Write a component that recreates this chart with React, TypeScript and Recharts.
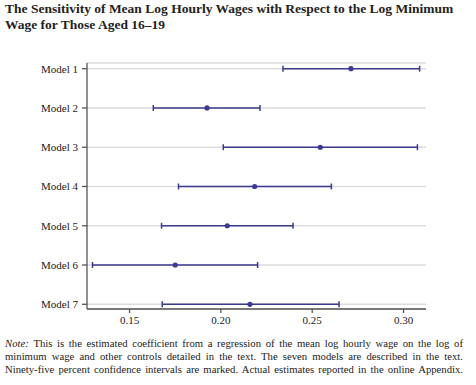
import {
  CartesianGrid,
  ErrorBar,
  Scatter,
  ScatterChart,
  XAxis,
  YAxis,
} from "recharts";

const models = ["Model 1", "Model 2", "Model 3", "Model 4", "Model 5", "Model 6", "Model 7"];
const estimates = [0.2712, 0.1924, 0.2544, 0.2185, 0.2035, 0.175, 0.2159];
const lower = [0.234, 0.163, 0.2013, 0.1768, 0.1675, 0.1297, 0.1679];
const upper = [0.3088, 0.2214, 0.3076, 0.2605, 0.2395, 0.2201, 0.2647];
const xTicks = [0.15, 0.2, 0.25, 0.3];

const titleLines = [
  "The Sensitivity of Mean Log Hourly Wages with Respect to the Log Minimum",
  "Wage for Those Aged 16–19",
];
const noteLines = [
  "This is the estimated coefficient from a regression of the mean log hourly wage on the log of",
  "minimum wage and other controls detailed in the text. The seven models are described in the text.",
  "Ninety-five percent confidence intervals are marked. Actual estimates reported in the online Appendix.",
];

const data = models.map((m, i) => ({
  pos: i + 1,
  est: estimates[i],
  err: [estimates[i] - lower[i], upper[i] - estimates[i]],
}));

const SERIF = '"Liberation Serif", "Times New Roman", serif';
const NAVY = "#3b3b8f";

const tick = { fontFamily: SERIF, fontSize: 11, fill: "#1a1a1a" };

export default function App() {
  return (
    <div
      style={{
        position: "absolute",
        left: 0,
        top: 0,
        width: 476,
        height: 385,
        background: "#fff",
        fontFamily: SERIF,
      }}
    >
      <div
        style={{
          position: "absolute",
          left: 5,
          top: 1,
          fontWeight: "bold",
          fontSize: 13.5,
          lineHeight: "16px",
          color: "#222",
          whiteSpace: "nowrap",
        }}
      >
        {titleLines.map((l) => (
          <div key={l}>{l}</div>
        ))}
      </div>
      <div style={{ position: "absolute", left: 0, top: 0 }}>
        <ScatterChart
          width={476}
          height={330}
          margin={{ top: 63, right: 50, bottom: 0, left: 0 }}
        >
          <CartesianGrid vertical={false} stroke="#ddd" strokeWidth={1.5} />
          <XAxis
            type="number"
            dataKey="est"
            domain={[0.1267, 0.3123]}
            ticks={xTicks}
            allowDataOverflow
            tickFormatter={(v: number) => v.toFixed(2)}
            tick={tick}
            height={21}
            tickSize={4}
            tickMargin={3}
            stroke="#555"
            strokeWidth={1.3}
          />
          <YAxis
            type="number"
            dataKey="pos"
            domain={[0.855, 7.12]}
            reversed
            ticks={[1, 2, 3, 4, 5, 6, 7]}
            allowDataOverflow
            tickFormatter={(v: number) => models[v - 1]}
            tick={tick}
            width={87}
            tickSize={5}
            tickMargin={4}
            stroke="#555"
            strokeWidth={1.3}
          />
          <Scatter
            data={data}
            fill={NAVY}
            isAnimationActive={false}
            shape={(p: any) => <circle cx={p.cx} cy={p.cy} r={2.6} fill={NAVY} />}
          >
            <ErrorBar
              dataKey="err"
              direction="x"
              width={3}
              stroke={NAVY}
              strokeWidth={1.5}
            />
          </Scatter>
        </ScatterChart>
      </div>
      <div
        style={{
          position: "absolute",
          left: 5,
          top: 337,
          width: 458,
          fontSize: 10.7,
          lineHeight: "13px",
          color: "#222",
          whiteSpace: "nowrap",
        }}
      >
        {noteLines.map((l, i) => (
          <div key={i} style={{ textAlign: "justify", textAlignLast: "justify" }}>
            {i === 0 && <i>Note: </i>}
            {l}
          </div>
        ))}
      </div>
    </div>
  );
}
